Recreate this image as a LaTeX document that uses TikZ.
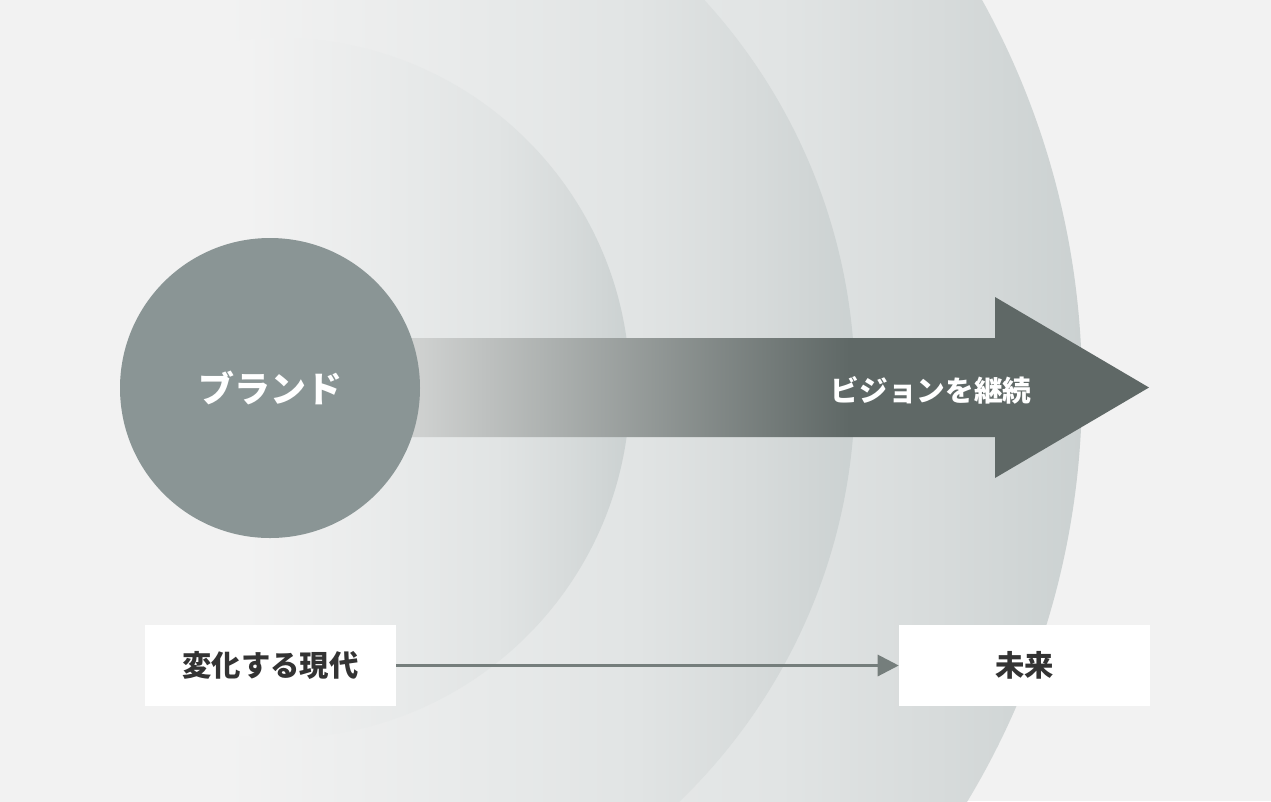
\documentclass[tikz,border=0pt]{standalone}
\usepackage{fontspec}
\newfontfamily\jp{Noto Sans CJK JP}
\usetikzlibrary{arrows.meta}
\definecolor{bg}{HTML}{F2F2F2}
\definecolor{r1}{HTML}{E8EAEA}
\definecolor{r2}{HTML}{E1E4E4}
\definecolor{r3}{HTML}{D7DBDB}
\definecolor{r4}{HTML}{CBD1D1}
\definecolor{a0}{HTML}{CFD1D0}
\definecolor{a1}{HTML}{5F6866}
\definecolor{brandc}{HTML}{8A9595}
\definecolor{txt}{HTML}{333333}
\definecolor{connc}{HTML}{757E7C}
\pgfdeclarehorizontalshading{ringshade}{100bp}{color(0bp)=(bg); color(47.5bp)=(bg); color(58.5bp)=(r1); color(65.5bp)=(r2); color(70.5bp)=(r3); color(75bp)=(r4); color(100bp)=(r4)}
\pgfdeclarehorizontalshading{arrowshade}{100bp}{color(0bp)=(a0); color(26.2bp)=(a0); color(55bp)=(a1); color(100bp)=(a1)}
\begin{document}
\begin{tikzpicture}[x=0.75pt,y=-0.75pt,
  brandnode/.style={circle, fill=brandc, minimum size=225pt, inner sep=0pt, text=white, font=\jp\bfseries\fontsize{27}{30}\selectfont},
  arrowlabel/.style={text=white, inner sep=0pt, font=\jp\bfseries\fontsize{21.5}{24}\selectfont},
  box/.style={rectangle, fill=white, minimum width=188.25pt, minimum height=60.75pt, inner sep=0pt, text=txt, font=\jp\bfseries\fontsize{22}{24}\selectfont},
  conn/.style={draw=connc, line width=2.25pt, -{Triangle[length=15.75pt,width=15.75pt]}}
]
\useasboundingbox (0,0) rectangle (1271,801);
\fill[bg] (0,0) rectangle (1271,801);
\begin{scope}
  \clip (0,0) rectangle (1271,801);
  \shade[shading=ringshade] (280,388) circle[radius=802];
  \shade[shading=ringshade] (280,388) circle[radius=575];
  \shade[shading=ringshade] (280,388) circle[radius=350];
\end{scope}
\shade[shading=arrowshade] (400,338) -- (995,338) -- (995,297) -- (1149,387.5) -- (995,478) -- (995,437) -- (400,437) -- cycle;
\node[brandnode] (brand) at (270,388) {ブランド};
\node[arrowlabel] (vision) at (931,390) {ビジョンを継続};
\node[box] (now) at (270.5,665.5) {変化する現代};
\node[box] (future) at (1024.5,665.5) {未来};
\draw[conn] (now) -- (future);
\end{tikzpicture}
\end{document}
